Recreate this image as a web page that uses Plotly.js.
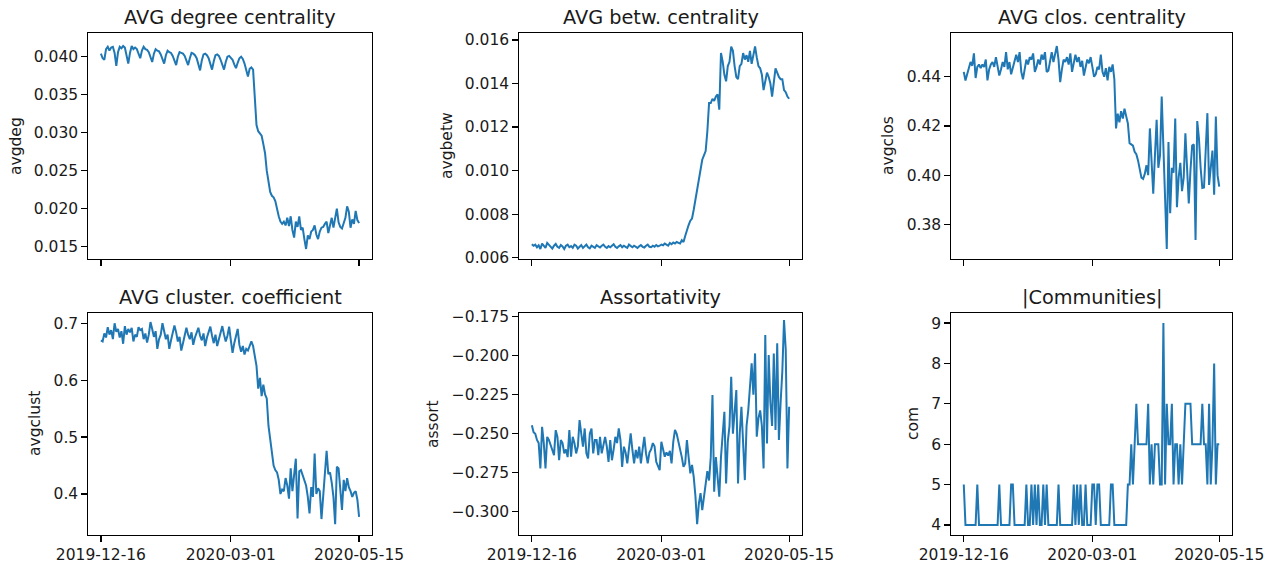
<!DOCTYPE html>
<html><head><meta charset="utf-8">
<script src="https://cdn.plot.ly/plotly-3.0.1.min.js"></script>
<style>html,body{margin:0;padding:0;background:#fff}#chart{width:1280px;height:567px}</style>
</head><body><div id="chart"></div>
<script>
const startDate = '2019-12-16';
const nDays = 152;
const tickDates = ['2019-12-16', '2020-03-01', '2020-05-15'];

const titles = ['AVG degree centrality', 'AVG betw. centrality', 'AVG clos. centrality',
                'AVG cluster. coefficient', 'Assortativity', '|Communities|'];
const ylabels = ['avgdeg', 'avgbetw', 'avgclos', 'avgclust', 'assort', 'com'];

const avgdeg = [
0.0404,0.0398,0.0396,0.0410,0.0413,0.0408,0.0412,0.0413,0.0405,0.0388,
0.0406,0.0413,0.0411,0.0414,0.0412,0.0402,0.0391,0.0405,0.0414,0.0410,
0.0412,0.0410,0.0404,0.0398,0.0408,0.0413,0.0410,0.0409,0.0406,0.0398,
0.0393,0.0404,0.0410,0.0408,0.0407,0.0403,0.0396,0.0391,0.0402,0.0408,
0.0406,0.0405,0.0401,0.0395,0.0389,0.0400,0.0406,0.0405,0.0404,0.0401,
0.0394,0.0389,0.0398,0.0405,0.0404,0.0402,0.0398,0.0390,0.0382,0.0395,
0.0403,0.0404,0.0402,0.0398,0.0391,0.0383,0.0394,0.0402,0.0403,0.0401,
0.0396,0.0390,0.0383,0.0393,0.0400,0.0401,0.0399,0.0396,0.0390,0.0385,
0.0392,0.0398,0.0400,0.0397,0.0391,0.0382,0.0374,0.0384,0.0386,0.0383,
0.0350,0.0310,0.0302,0.0299,0.0296,0.0285,0.0273,0.0250,0.0235,0.0222,
0.0217,0.0215,0.0210,0.0198,0.0190,0.0183,0.0180,0.0183,0.0178,0.0188,
0.0177,0.0190,0.0172,0.0162,0.0183,0.0176,0.0190,0.0172,0.0175,0.0160,
0.0147,0.0165,0.0160,0.0170,0.0172,0.0178,0.0166,0.0160,0.0170,0.0175,
0.0176,0.0180,0.0183,0.0168,0.0178,0.0188,0.0175,0.0188,0.0200,0.0182,
0.0176,0.0174,0.0180,0.0188,0.0203,0.0196,0.0175,0.0186,0.0180,0.0197,
0.0185,0.0181];

const avgbetw = [
0.00662,0.00655,0.00660,0.00648,0.00657,0.00640,0.00665,0.00652,0.00645,0.00668,
0.00660,0.00650,0.00642,0.00655,0.00663,0.00650,0.00645,0.00658,0.00652,0.00640,
0.00655,0.00660,0.00648,0.00653,0.00645,0.00660,0.00655,0.00642,0.00650,0.00658,
0.00645,0.00652,0.00660,0.00648,0.00643,0.00655,0.00650,0.00645,0.00658,0.00652,
0.00647,0.00655,0.00660,0.00650,0.00645,0.00653,0.00648,0.00655,0.00662,0.00650,
0.00645,0.00652,0.00658,0.00648,0.00655,0.00650,0.00645,0.00660,0.00653,0.00648,
0.00655,0.00650,0.00645,0.00652,0.00658,0.00650,0.00647,0.00655,0.00660,0.00650,
0.00648,0.00655,0.00650,0.00658,0.00652,0.00655,0.00660,0.00657,0.00665,0.00660,
0.00655,0.00668,0.00662,0.00670,0.00665,0.00672,0.00670,0.00665,0.00680,0.00672,
0.00700,0.00730,0.00750,0.00770,0.00780,0.00820,0.00870,0.00920,0.00970,0.01020,
0.01050,0.01070,0.01090,0.01180,0.01310,0.01310,0.01330,0.01320,0.01340,0.01350,
0.01280,0.01540,0.01500,0.01440,0.01410,0.01480,0.01500,0.01570,0.01550,0.01480,
0.01430,0.01420,0.01480,0.01490,0.01540,0.01510,0.01530,0.01500,0.01550,0.01490,
0.01530,0.01570,0.01520,0.01480,0.01470,0.01440,0.01370,0.01420,0.01450,0.01430,
0.01400,0.01340,0.01400,0.01470,0.01450,0.01430,0.01420,0.01420,0.01370,0.01360,
0.01340,0.01330];

const avgclos = [
0.4420,0.4385,0.4410,0.4440,0.4460,0.4445,0.4495,0.4395,0.4440,0.4450,
0.4435,0.4450,0.4440,0.4470,0.4385,0.4430,0.4450,0.4460,0.4440,0.4480,
0.4440,0.4405,0.4430,0.4460,0.4440,0.4500,0.4430,0.4460,0.4410,0.4440,
0.4470,0.4490,0.4460,0.4500,0.4420,0.4390,0.4430,0.4470,0.4450,0.4480,
0.4470,0.4495,0.4420,0.4440,0.4470,0.4450,0.4490,0.4470,0.4500,0.4420,
0.4425,0.4470,0.4500,0.4460,0.4490,0.4525,0.4470,0.4378,0.4430,0.4470,
0.4460,0.4480,0.4450,0.4495,0.4420,0.4450,0.4490,0.4460,0.4480,0.4440,
0.4465,0.4405,0.4440,0.4470,0.4455,0.4480,0.4440,0.4400,0.4410,0.4440,
0.4430,0.4490,0.4420,0.4400,0.4435,0.4385,0.4440,0.4420,0.4450,0.4390,
0.4190,0.4250,0.4215,0.4260,0.4230,0.4270,0.4240,0.4210,0.4130,0.4125,
0.4120,0.4095,0.4085,0.4060,0.4030,0.3990,0.3985,0.4005,0.4040,0.4000,
0.4190,0.4020,0.3925,0.4080,0.4225,0.4030,0.4080,0.4320,0.4100,0.3880,
0.3700,0.4135,0.3845,0.4030,0.4010,0.4230,0.3870,0.3990,0.4050,0.3935,
0.3990,0.4170,0.4050,0.3885,0.4020,0.4120,0.4125,0.3736,0.4220,0.4150,
0.4030,0.3948,0.3950,0.4126,0.4252,0.3960,0.4050,0.4100,0.3920,0.4238,
0.4000,0.3953];

const avgclust = [
0.670,0.668,0.682,0.675,0.693,0.680,0.688,0.672,0.700,0.685,
0.690,0.675,0.686,0.664,0.695,0.680,0.690,0.684,0.692,0.668,
0.680,0.676,0.693,0.688,0.690,0.672,0.682,0.666,0.680,0.702,
0.690,0.676,0.686,0.655,0.672,0.680,0.700,0.688,0.672,0.680,
0.655,0.670,0.682,0.696,0.684,0.668,0.676,0.652,0.665,0.680,
0.692,0.680,0.672,0.684,0.662,0.675,0.685,0.692,0.678,0.670,
0.682,0.660,0.675,0.685,0.694,0.678,0.665,0.680,0.660,0.672,
0.684,0.695,0.680,0.668,0.678,0.694,0.670,0.648,0.665,0.680,
0.690,0.662,0.650,0.660,0.645,0.655,0.652,0.660,0.668,0.660,
0.641,0.625,0.585,0.604,0.572,0.592,0.575,0.568,0.520,0.495,
0.470,0.450,0.442,0.438,0.425,0.400,0.408,0.405,0.428,0.415,
0.392,0.445,0.405,0.435,0.462,0.357,0.440,0.442,0.432,0.425,
0.415,0.395,0.366,0.412,0.395,0.471,0.400,0.410,0.405,0.356,
0.395,0.420,0.476,0.435,0.438,0.420,0.395,0.347,0.448,0.445,
0.410,0.372,0.425,0.405,0.428,0.412,0.405,0.395,0.402,0.405,
0.390,0.360];

const assort = [
-0.2445,-0.2490,-0.2500,-0.2540,-0.2560,-0.2722,-0.2455,-0.2560,-0.2722,-0.2520,
-0.2540,-0.2580,-0.2604,-0.2637,-0.2477,-0.2520,-0.2669,-0.2540,-0.2560,-0.2626,
-0.2600,-0.2650,-0.2477,-0.2647,-0.2520,-0.2560,-0.2626,-0.2580,-0.2412,-0.2500,
-0.2583,-0.2466,-0.2626,-0.2658,-0.2500,-0.2466,-0.2626,-0.2540,-0.2540,-0.2637,
-0.2520,-0.2626,-0.2560,-0.2520,-0.2583,-0.2680,-0.2540,-0.2670,-0.2600,-0.2520,
-0.2560,-0.2466,-0.2540,-0.2712,-0.2583,-0.2620,-0.2690,-0.2600,-0.2498,-0.2604,
-0.2690,-0.2604,-0.2658,-0.2583,-0.2690,-0.2600,-0.2520,-0.2626,-0.2690,-0.2620,
-0.2600,-0.2560,-0.2580,-0.2680,-0.2712,-0.2733,-0.2551,-0.2600,-0.2647,-0.2620,
-0.2640,-0.2610,-0.2690,-0.2550,-0.2476,-0.2500,-0.2562,-0.2600,-0.2650,-0.2712,
-0.2690,-0.2540,-0.2650,-0.2754,-0.2700,-0.2776,-0.2900,-0.3080,-0.2950,-0.2880,
-0.2990,-0.2900,-0.2840,-0.2740,-0.2800,-0.2650,-0.2252,-0.2872,-0.2650,-0.2760,
-0.2904,-0.2650,-0.2480,-0.2359,-0.2818,-0.2550,-0.2450,-0.2135,-0.2500,-0.2380,
-0.2220,-0.2818,-0.2500,-0.2327,-0.2600,-0.2797,-0.2450,-0.2350,-0.2200,-0.2049,
-0.2250,-0.1985,-0.2519,-0.2400,-0.2350,-0.2450,-0.2722,-0.1867,-0.2562,-0.1995,
-0.2300,-0.2450,-0.1985,-0.2476,-0.1920,-0.2540,-0.2300,-0.2100,-0.1771,-0.1960,
-0.2722,-0.2327];

const com = [
5,4,4,4,4,4,4,4,5,4,
4,4,4,4,4,4,4,4,4,4,
4,5,4,4,4,4,4,4,5,5,
4,4,4,4,4,4,4,5,4,4,
5,4,5,4,5,4,4,5,4,5,
4,4,4,4,4,4,5,4,4,4,
4,4,4,4,4,5,4,5,4,5,
4,4,5,4,4,4,5,5,4,5,
5,4,4,4,4,4,4,5,5,4,
4,4,4,4,4,4,4,5,5,6,
5,6,7,6,6,6,6,6,6,7,
5,6,5,6,6,6,5,5,9,5,
7,6,6,7,5,6,6,5,6,5,
6,7,7,7,7,6,6,6,6,6,
6,7,6,6,5,7,5,6,8,5,
6,6];

// daily date axis
const DAY = 86400000;
const t0 = Date.parse(startDate + 'T00:00:00Z');
const dates = [];
for (let i = 0; i < nDays; i++) dates.push(new Date(t0 + i * DAY).toISOString().slice(0, 10));
function fmt(ms) { return new Date(ms).toISOString().replace('T', ' ').replace('Z', ''); }
const span = (nDays - 1) * DAY;
const xRange = [fmt(t0 - 0.05 * span), fmt(t0 + span + 0.05 * span)];

const series = [avgdeg, avgbetw, avgclos, avgclust, assort, com];
const yRanges = [[0.01338, 0.04312], [0.00594, 0.01632], [0.3659, 0.4578],
                 [0.328, 0.718], [-0.3149, -0.1726], [3.75, 9.25]];
const yTicks = [{tick0: 0, dtick: 0.005, fmt: '.3f'}, {tick0: 0, dtick: 0.002, fmt: '.3f'},
                {tick0: 0, dtick: 0.02, fmt: '.2f'}, {tick0: 0, dtick: 0.1, fmt: '.1f'},
                {tick0: 0, dtick: 0.025, fmt: '.3f'}, {tick0: 0, dtick: 1, fmt: 'd'}];

const W = 1280, H = 567;
const colDom = [[88 / W, 372 / W], [519 / W, 802 / W], [951 / W, 1232 / W]];
const rowDom = [[1 - 259 / H, 1 - 33 / H], [1 - 535 / H, 1 - 313 / H]];
const ylabelX = [16, 447, 888, 35, 433, 913];

const FONT = 'DejaVu Sans, Verdana, sans-serif';
const axisBase = {
  showline: true, mirror: true, linecolor: '#000', linewidth: 1.2,
  ticks: 'outside', ticklen: 5.5, tickwidth: 1.2, tickcolor: '#000',
  showgrid: false, zeroline: false,
  tickfont: {family: FONT, size: 15.5, color: '#1a1a1a'}
};

const data = [];
const layout = {
  width: W, height: H, margin: {l: 0, r: 0, t: 0, b: 0},
  paper_bgcolor: '#fff', plot_bgcolor: '#fff', showlegend: false,
  font: {family: FONT, color: '#000'}, annotations: []
};

for (let k = 0; k < 6; k++) {
  const row = Math.floor(k / 3), col = k % 3;
  const sfx = k === 0 ? '' : String(k + 1);
  data.push({
    x: dates, y: series[k], type: 'scatter', mode: 'lines',
    line: {color: '#1f77b4', width: 2},
    xaxis: 'x' + sfx, yaxis: 'y' + sfx, hoverinfo: 'skip'
  });
  layout['xaxis' + sfx] = Object.assign({}, axisBase, {
    type: 'date', domain: colDom[col], anchor: 'y' + sfx, range: xRange,
    tickmode: 'array', tickvals: tickDates, ticktext: tickDates,
    showticklabels: row === 1
  });
  layout['yaxis' + sfx] = Object.assign({}, axisBase, {
    domain: rowDom[row], anchor: 'x' + sfx, range: yRanges[k],
    tickmode: 'linear', tick0: yTicks[k].tick0, dtick: yTicks[k].dtick,
    tickformat: yTicks[k].fmt
  });
  layout.annotations.push({
    text: titles[k], xref: 'paper', yref: 'paper',
    x: (colDom[col][0] + colDom[col][1]) / 2, y: rowDom[row][1],
    xanchor: 'center', yanchor: 'bottom', yshift: 2, showarrow: false,
    font: {family: FONT, size: 19.3, color: '#1a1a1a'}
  });
  layout.annotations.push({
    text: ylabels[k], xref: 'paper', yref: 'paper',
    x: ylabelX[k] / W, y: (rowDom[row][0] + rowDom[row][1]) / 2,
    xanchor: 'center', yanchor: 'middle', textangle: -90, showarrow: false,
    font: {family: FONT, size: 15.5, color: '#1a1a1a'}
  });
}

Plotly.newPlot('chart', data, layout, {staticPlot: true, displayModeBar: false});
</script>
</body></html>
